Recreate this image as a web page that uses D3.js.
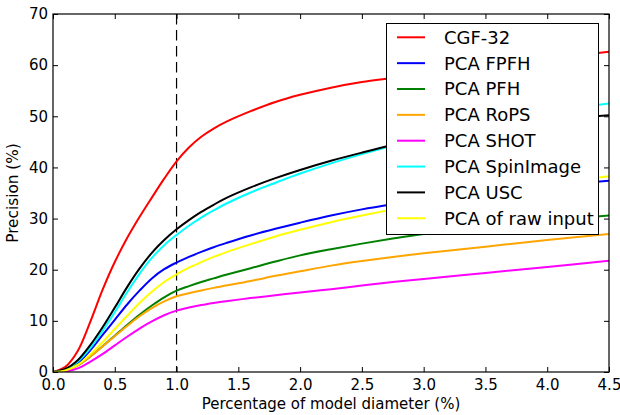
<!DOCTYPE html>
<html>
<head>
<meta charset="utf-8">
<script src="https://cdn.jsdelivr.net/npm/d3@7"></script>
<style>
  html, body { margin: 0; padding: 0; background: #fff; }
  svg { display: block; font-family: "DejaVu Sans", sans-serif; }
</style>
</head>
<body>
<svg id="chart" width="620" height="415"></svg>
<script>
// Sample positions along the x axis (percentage of model diameter)
const xs = [0, 0.1, 0.2, 0.3, 0.4, 0.5, 0.6, 0.7, 0.8, 0.9, 1.0, 1.1, 1.2, 1.3, 1.4, 1.6, 1.8, 2.0, 2.25, 2.5, 2.75, 3.0, 3.5, 4.0, 4.5];

// Precision (%) per method at each sample position
const cgf32   = [0, 1.0, 4.1, 9.7, 16.0, 21.5, 26.2, 30.3, 34.1, 37.8, 41.2, 43.9, 46.0, 47.6, 48.9, 51.0, 52.8, 54.2, 55.6, 56.7, 57.5, 58.3, 59.8, 61.2, 62.6];
const pcaFpfh = [0, 0.4, 1.7, 4.2, 7.2, 10.2, 13.2, 15.9, 18.3, 20.1, 21.4, 22.5, 23.5, 24.4, 25.2, 26.7, 28.0, 29.2, 30.6, 31.8, 32.8, 33.7, 35.2, 36.4, 37.4];
const pcaPfh  = [0, 0.3, 1.3, 3.0, 5.0, 7.1, 9.2, 11.2, 13.0, 14.6, 15.9, 16.8, 17.6, 18.3, 19.0, 20.3, 21.6, 22.8, 24.0, 25.1, 26.1, 27.0, 28.4, 29.6, 30.6];
const pcaRops = [0, 0.3, 1.3, 3.0, 5.0, 7.0, 9.0, 10.9, 12.5, 13.8, 14.8, 15.4, 15.95, 16.45, 16.9, 17.8, 18.8, 19.7, 20.8, 21.7, 22.5, 23.2, 24.5, 25.8, 27.0];
const pcaShot = [0, 0.1, 0.7, 2.0, 3.5, 5.2, 6.9, 8.5, 9.9, 11.1, 12.0, 12.6, 13.1, 13.5, 13.85, 14.45, 15.0, 15.55, 16.2, 16.9, 17.6, 18.2, 19.35, 20.55, 21.75];
const pcaSpin = [0, 0.5, 2.0, 4.6, 8.0, 11.7, 15.6, 19.2, 22.3, 24.8, 26.8, 28.6, 30.2, 31.6, 32.9, 35.1, 37.0, 38.8, 40.8, 42.6, 44.3, 45.9, 48.6, 50.8, 52.5];
const pcaUsc  = [0, 0.6, 2.3, 5.2, 8.7, 12.6, 16.6, 20.2, 23.3, 25.8, 27.9, 29.7, 31.3, 32.7, 34.0, 36.1, 37.9, 39.5, 41.3, 42.9, 44.4, 45.7, 47.7, 49.1, 50.2];
const pcaRaw  = [0, 0.3, 1.4, 3.4, 5.8, 8.4, 11.0, 13.5, 15.7, 17.6, 19.1, 20.4, 21.5, 22.5, 23.4, 25.0, 26.5, 27.8, 29.3, 30.6, 31.8, 32.9, 35.0, 36.8, 38.3];

const seriesNames  = ["CGF-32", "PCA FPFH", "PCA PFH", "PCA RoPS", "PCA SHOT", "PCA SpinImage", "PCA USC", "PCA of raw input"];
const seriesValues = [cgf32, pcaFpfh, pcaPfh, pcaRops, pcaShot, pcaSpin, pcaUsc, pcaRaw];
const seriesColors = ["#ff0000", "#0000ff", "#008000", "#ffa500", "#ff00ff", "#00ffff", "#000000", "#ffff00"];

const xTicks = [0, 0.5, 1.0, 1.5, 2.0, 2.5, 3.0, 3.5, 4.0, 4.5];
const yTicks = [0, 10, 20, 30, 40, 50, 60, 70];
const markerX = 1.0;

const svg = d3.select("#chart");
const m = { left: 53, right: 11, top: 14, bottom: 43 };
const W = 620, H = 415;
const x = d3.scaleLinear().domain([0, 4.5]).range([m.left, W - m.right]);
const y = d3.scaleLinear().domain([0, 70]).range([H - m.bottom, m.top]);

svg.append("defs").append("clipPath").attr("id", "plot-clip")
  .append("rect")
  .attr("x", x(0)).attr("y", y(70))
  .attr("width", x(4.5) - x(0)).attr("height", y(0) - y(70));

const plot = svg.append("g").attr("clip-path", "url(#plot-clip)");

// Dashed reference line at 1% of the model diameter
plot.append("line")
  .attr("x1", x(markerX)).attr("x2", x(markerX))
  .attr("y1", y(70)).attr("y2", y(0))
  .attr("stroke", "#000").attr("stroke-width", 1.2)
  .attr("stroke-dasharray", "10.5,5.5");

const line = d3.line()
  .x((d, i) => x(xs[i]))
  .y(d => y(d))
  .curve(d3.curveCatmullRom.alpha(0.5));

seriesValues.forEach((vals, k) => {
  plot.append("path")
    .datum(vals)
    .attr("d", line)
    .attr("fill", "none")
    .attr("stroke", seriesColors[k])
    .attr("stroke-width", 2);
});

// Axes: inward ticks on all four sides
const tickLen = 5;
const fontTick = 15;

const axB = svg.append("g").attr("transform", `translate(0,${y(0)})`)
  .call(d3.axisBottom(x).tickValues(xTicks).tickFormat(d3.format(".1f")).tickSizeInner(-tickLen).tickSizeOuter(0).tickPadding(7.5));
const axT = svg.append("g").attr("transform", `translate(0,${y(70)})`)
  .call(d3.axisTop(x).tickValues(xTicks).tickFormat("").tickSizeInner(-tickLen).tickSizeOuter(0));
const axL = svg.append("g").attr("transform", `translate(${x(0)},0)`)
  .call(d3.axisLeft(y).tickValues(yTicks).tickFormat(d3.format("d")).tickSizeInner(-tickLen).tickSizeOuter(0).tickPadding(5));
const axR = svg.append("g").attr("transform", `translate(${x(4.5)},0)`)
  .call(d3.axisRight(y).tickValues(yTicks).tickFormat("").tickSizeInner(-tickLen).tickSizeOuter(0));

[axB, axT, axL, axR].forEach(a => {
  a.select(".domain").remove();
  a.selectAll(".tick line").attr("stroke", "#000").attr("stroke-width", 1);
  a.selectAll("text").attr("fill", "#000").attr("font-size", fontTick)
    .attr("font-family", "DejaVu Sans, sans-serif");
});

// Frame
svg.append("rect")
  .attr("x", x(0)).attr("y", y(70))
  .attr("width", x(4.5) - x(0)).attr("height", y(0) - y(70))
  .attr("fill", "none").attr("stroke", "#000").attr("stroke-width", 1.2);

// Axis titles
svg.append("text")
  .attr("x", (x(0) + x(4.5)) / 2).attr("y", 409)
  .attr("text-anchor", "middle").attr("font-size", 15)
  .text("Percentage of model diameter (%)");
svg.append("text")
  .attr("transform", `translate(18,${(y(0) + y(70)) / 2}) rotate(-90)`)
  .attr("text-anchor", "middle").attr("font-size", 15.3)
  .text("Precision (%)");

// Legend
const lg = svg.append("g");
lg.append("rect")
  .attr("x", 386.5).attr("y", 23.5).attr("width", 212).attr("height", 211)
  .attr("fill", "#fff").attr("stroke", "#000").attr("stroke-width", 1);
seriesNames.forEach((name, k) => {
  const cy = 37.3 + k * 25.85;
  lg.append("line")
    .attr("x1", 397).attr("x2", 425).attr("y1", cy).attr("y2", cy)
    .attr("stroke", seriesColors[k]).attr("stroke-width", 2);
  lg.append("text")
    .attr("x", 444).attr("y", cy).attr("dy", "0.36em")
    .attr("font-size", 18)
    .text(name);
});
</script>
</body>
</html>
